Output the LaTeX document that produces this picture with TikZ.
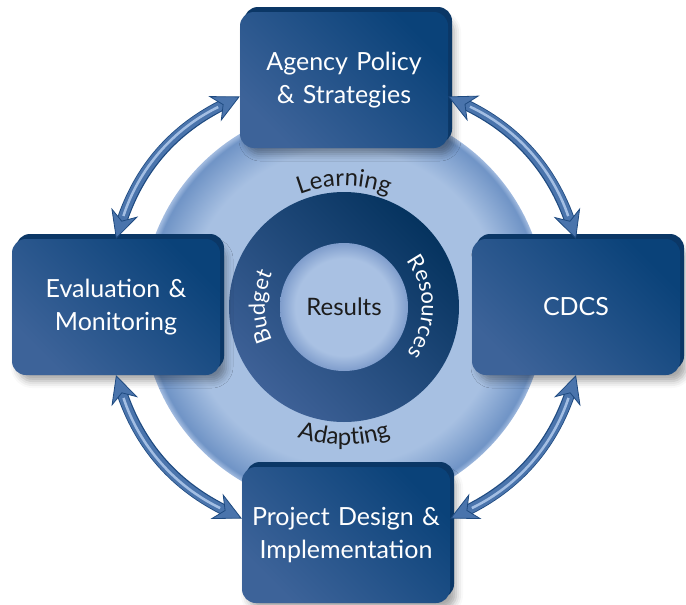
\documentclass[tikz,border=0pt]{standalone}
\usepackage{fontspec}
\setmainfont{Lato}
\usepackage{tikz}
\usetikzlibrary{arrows.meta,shadows,shadows.blur,decorations.text,positioning}

\definecolor{boxlo}{HTML}{3D6399}
\definecolor{boxhi}{HTML}{0A4279}
\definecolor{boxside}{HTML}{0B3766}
\definecolor{disclight}{HTML}{A7C0E2}
\definecolor{discdark}{HTML}{7094C6}
\definecolor{discrim}{HTML}{A3BCE0}
\definecolor{ringlo}{HTML}{3E6197}
\definecolor{ringhi}{HTML}{05335F}
\definecolor{corelight}{HTML}{A9C1E3}
\definecolor{coredark}{HTML}{7F9DCC}
\definecolor{arrowblue}{HTML}{4A74AC}
\definecolor{arrowdark}{HTML}{1E4A80}
\definecolor{arrowlight}{HTML}{A3BEE3}
\definecolor{labeldark}{HTML}{1C1C1C}

\pgfdeclareradialshading{discshade}{\pgfpoint{0bp}{0bp}}{color(0bp)=(disclight); color(19.5bp)=(disclight); color(24.3bp)=(discdark); color(25bp)=(discrim); color(50bp)=(discrim)}
\pgfdeclareradialshading{coreshade}{\pgfpoint{0bp}{0bp}}{color(0bp)=(corelight); color(19bp)=(corelight); color(25bp)=(coredark); color(50bp)=(coredark)}

\newcommand\ringfont{\fontsize{24}{24}\selectfont}
\newcommand\sidefont{\fontsize{22}{22}\selectfont}

\tikzset{
    stage/.style={
                rectangle,
                rounded corners=14pt,
                minimum width=208pt,
                minimum height=136pt,
                text width=196pt,
                align=center,
                text=white,
                font=\fontsize{25}{33}\selectfont,
                top color=boxhi,
                bottom color=boxlo,
                shading angle=-45,
                blur shadow={shadow xshift=6pt, shadow yshift=-6pt, shadow blur radius=7pt, shadow opacity=35},
                copy shadow={shadow xshift=4pt, shadow yshift=5pt, fill=boxside, draw=none}
            },
        disc/.style={
                circle,
                inner sep=0pt,
                minimum size=404pt,
                shading=discshade
            },
        ring/.style={
                circle,
                inner sep=0pt,
                minimum size=230pt,
                top color=ringhi,
                bottom color=ringlo,
                shading angle=-45
            },
        core/.style={
                circle,
                inner sep=0pt,
                minimum size=128pt,
                shading=coreshade,
                text=labeldark,
                font=\fontsize{24}{24}\selectfont
            },
        cyclearrow/.style={
                draw=arrowblue,
                line width=9pt,
                {Stealth[length=28pt,width=28pt,inset=9pt,fill=arrowblue,color=arrowdark,line width=0.8pt]}-{Stealth[length=28pt,width=28pt,inset=9pt,fill=arrowblue,color=arrowdark,line width=0.8pt]},
                preaction={draw=arrowdark, line width=11pt, -, shorten <=16pt, shorten >=16pt},
                postaction={draw=arrowlight, line width=2.5pt, -, shorten <=24pt, shorten >=24pt}
            },
        ringlabel/.style={
                decorate,
                decoration={text along path, text align=center, text color=#1}
            },
}

\begin{document}
\begin{tikzpicture}[x=1pt,y=1pt]
  \useasboundingbox (0,0) rectangle (686,-605);
  % Circles
  \node[disc] (disc) at (344,-307) {};
  \node[ring] (ring) at (344,-307) {};
  \node[core] (results) at (344,-307) {Results};
  % Ring labels
  \path[ringlabel=labeldark, decoration={text={|\ringfont|Learning}}]
    ([shift={(140:121pt)}]results.center) arc[start angle=140, end angle=40, radius=121pt];
  \path[ringlabel=labeldark, decoration={text={|\ringfont|Adapting}}]
    ([shift={(230:138pt)}]results.center) arc[start angle=230, end angle=310, radius=138pt];
  \path[ringlabel=white, decoration={text={|\sidefont|Budget}}]
    ([shift={(210:79pt)}]results.center) arc[start angle=210, end angle=150, radius=79pt];
  \path[ringlabel=white, decoration={text={|\sidefont|Resources}}]
    ([shift={(40:78pt)}]results.center) arc[start angle=40, end angle=-40, radius=78pt];
  % Stages
  \node[stage] (agency) at (344,-80) {Agency Policy\\ \& Strategies};
  \node[stage] (cdcs) at (576,-307) {CDCS};
  \node[stage] (project) at (346,-535) {Project Design \&\\ Implementation};
  \node[stage] (evalmon) at (116,-307) {Evaluation \&\\ Monitoring};
  % Cycle arrows
  \draw[cyclearrow] (agency.189) to[bend right=23] (evalmon.north);
  \draw[cyclearrow] (agency.351) to[bend left=23] (cdcs.north);
  \draw[cyclearrow] (evalmon.south) to[bend right=23] (project.171);
  \draw[cyclearrow] (cdcs.south) to[bend left=23] (project.9);
\end{tikzpicture}
\end{document}
